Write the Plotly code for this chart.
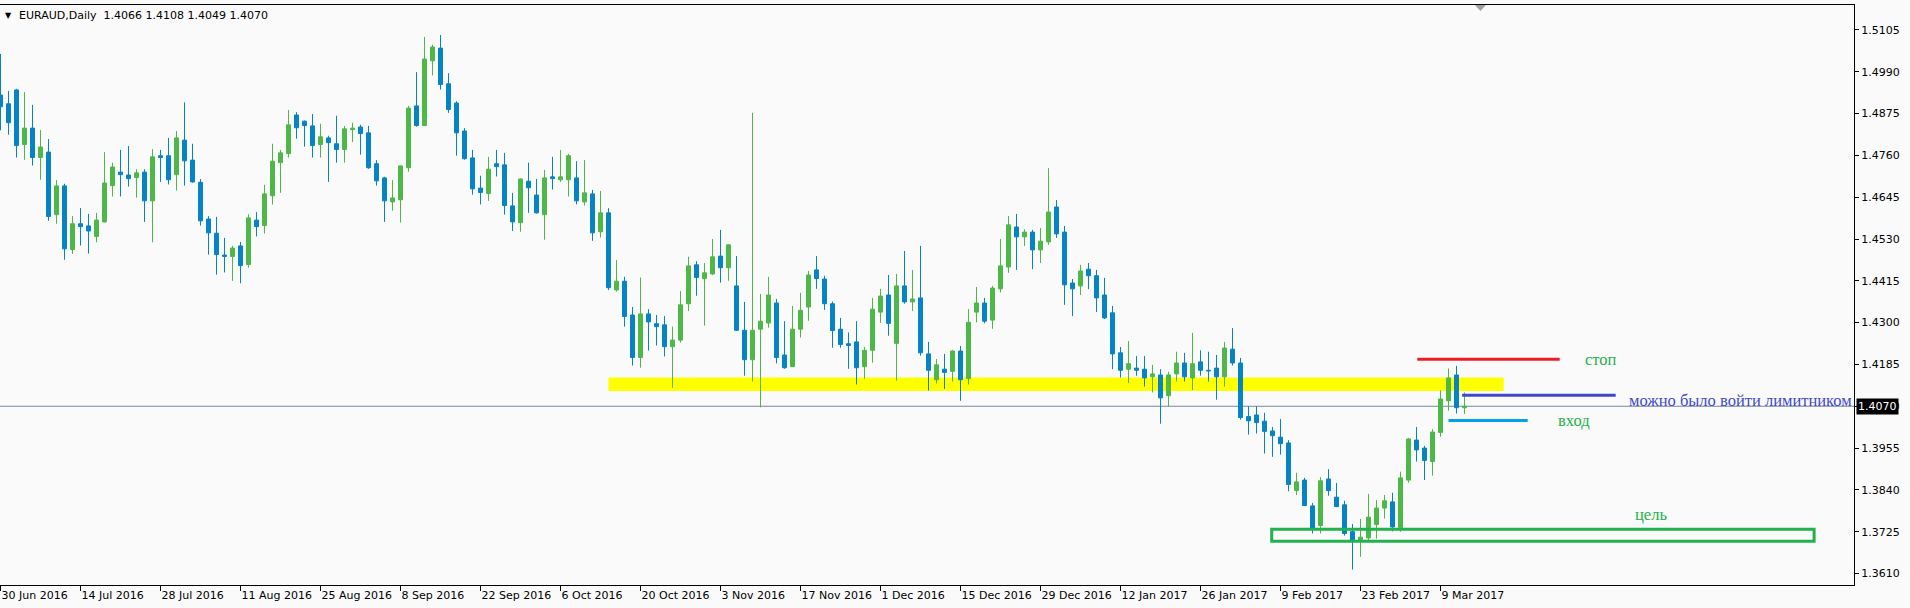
import plotly.graph_objects as go

# ---------------- data (EURAUD Daily) ----------------
opens = [1.4926, 1.4902, 1.4940, 1.4790, 1.4835, 1.4754, 1.4769, 1.4597, 1.4676, 1.4501,
         1.4572, 1.4566, 1.4537, 1.4577, 1.4677, 1.4714, 1.4706, 1.4699, 1.4714, 1.4635,
         1.4759, 1.4759, 1.4707, 1.4802, 1.4747, 1.4686, 1.4585, 1.4546, 1.4486, 1.4482,
         1.4511, 1.4460, 1.4582, 1.4567, 1.4649, 1.4740, 1.4765, 1.4871, 1.4854, 1.4841,
         1.4790, 1.4808, 1.4792, 1.4776, 1.4831, 1.4838, 1.4822, 1.4737, 1.4698, 1.4632,
         1.4638, 1.4726, 1.4896, 1.4842, 1.5020, 1.5055, 1.4957, 1.4904, 1.4827, 1.4753,
         1.4670, 1.4655, 1.4737, 1.4734, 1.4621, 1.4575, 1.4689, 1.4651, 1.4597, 1.4701,
         1.4693, 1.4693, 1.4698, 1.4632, 1.4654, 1.4550, 1.4602, 1.4390, 1.4414, 1.4321,
         1.4204, 1.4324, 1.4297, 1.4294, 1.4234, 1.4252, 1.4352, 1.4459, 1.4421, 1.4434,
         1.4483, 1.4451, 1.4401, 1.4279, 1.4198, 1.4282, 1.4299, 1.4354, 1.4211, 1.4179,
         1.4282, 1.4343, 1.4445, 1.4420, 1.4352, 1.4282, 1.4242, 1.4247, 1.4179, 1.4224,
         1.4329, 1.4376, 1.4243, 1.4401, 1.4357, 1.4368, 1.4214, 1.4143, 1.4172, 1.4166,
         1.4222, 1.4146, 1.4329, 1.4354, 1.4307, 1.4393, 1.4453, 1.4563, 1.4536, 1.4549,
         1.4500, 1.4522, 1.4618, 1.4549, 1.4409, 1.4401, 1.4447, 1.4429, 1.4376, 1.4327,
         1.4217, 1.4172, 1.4175, 1.4172, 1.4151, 1.4156, 1.4099, 1.4159, 1.4189, 1.4148,
         1.4192, 1.4169, 1.4175, 1.4151, 1.4227, 1.4189, 1.4042, 1.4046, 1.4029, 1.4002,
         1.3985, 1.3969, 1.3838, 1.3867, 1.3796, 1.3742, 1.3870, 1.3820, 1.3799, 1.3725,
         1.3699, 1.3708, 1.3745, 1.3790, 1.3807, 1.3736, 1.3867, 1.3977, 1.3955, 1.3918,
         1.3998, 1.4085, 1.4156, 1.4066]
highs = [1.5039, 1.4937, 1.4943, 1.4934, 1.4899, 1.4830, 1.4805, 1.4692, 1.4682, 1.4593,
         1.4615, 1.4599, 1.4602, 1.4769, 1.4740, 1.4775, 1.4786, 1.4722, 1.4722, 1.4777,
         1.4775, 1.4808, 1.4827, 1.4906, 1.4792, 1.4695, 1.4593, 1.4591, 1.4533, 1.4511,
         1.4522, 1.4598, 1.4604, 1.4679, 1.4792, 1.4775, 1.4885, 1.4879, 1.4856, 1.4874,
         1.4847, 1.4814, 1.4869, 1.4841, 1.4850, 1.4844, 1.4841, 1.4747, 1.4701, 1.4692,
         1.4732, 1.4896, 1.4989, 1.5086, 1.5064, 1.5091, 1.4986, 1.4909, 1.4835, 1.4775,
         1.4704, 1.4756, 1.4775, 1.4767, 1.4657, 1.4696, 1.4740, 1.4695, 1.4720, 1.4756,
         1.4775, 1.4764, 1.4744, 1.4747, 1.4665, 1.4662, 1.4615, 1.4472, 1.4426, 1.4343,
         1.4424, 1.4337, 1.4321, 1.4318, 1.4289, 1.4387, 1.4481, 1.4469, 1.4464, 1.4530,
         1.4555, 1.4515, 1.4483, 1.4357, 1.4877, 1.4379, 1.4426, 1.4365, 1.4304, 1.4346,
         1.4382, 1.4442, 1.4483, 1.4429, 1.4358, 1.4313, 1.4273, 1.4304, 1.4233, 1.4368,
         1.4393, 1.4431, 1.4434, 1.4497, 1.4445, 1.4511, 1.4247, 1.4200, 1.4214, 1.4224,
         1.4236, 1.4337, 1.4398, 1.4368, 1.4401, 1.4530, 1.4593, 1.4599, 1.4557, 1.4555,
         1.4560, 1.4725, 1.4637, 1.4566, 1.4420, 1.4459, 1.4464, 1.4445, 1.4423, 1.4346,
         1.4233, 1.4249, 1.4208, 1.4208, 1.4184, 1.4172, 1.4165, 1.4220, 1.4217, 1.4272,
         1.4224, 1.4220, 1.4211, 1.4247, 1.4285, 1.4203, 1.4070, 1.4070, 1.4052, 1.4013,
         1.4035, 1.3977, 1.3887, 1.3873, 1.3804, 1.3875, 1.3897, 1.3859, 1.3810, 1.3746,
         1.3760, 1.3829, 1.3812, 1.3826, 1.3832, 1.3890, 1.3983, 1.4013, 1.3961, 1.4007,
         1.4114, 1.4174, 1.4181, 1.4108]
lows = [1.4829, 1.4817, 1.4754, 1.4748, 1.4732, 1.4693, 1.4580, 1.4572, 1.4473, 1.4489,
        1.4512, 1.4490, 1.4521, 1.4576, 1.4647, 1.4647, 1.4674, 1.4644, 1.4577, 1.4521,
        1.4687, 1.4680, 1.4663, 1.4677, 1.4685, 1.4567, 1.4487, 1.4432, 1.4438, 1.4415,
        1.4408, 1.4451, 1.4537, 1.4545, 1.4625, 1.4657, 1.4754, 1.4806, 1.4784, 1.4754,
        1.4754, 1.4687, 1.4740, 1.4740, 1.4797, 1.4762, 1.4723, 1.4677, 1.4577, 1.4608,
        1.4575, 1.4715, 1.4839, 1.4841, 1.4980, 1.4941, 1.4877, 1.4759, 1.4748, 1.4652,
        1.4625, 1.4635, 1.4702, 1.4597, 1.4552, 1.4550, 1.4602, 1.4600, 1.4528, 1.4666,
        1.4687, 1.4647, 1.4625, 1.4622, 1.4525, 1.4534, 1.4390, 1.4385, 1.4289, 1.4182,
        1.4176, 1.4223, 1.4237, 1.4207, 1.4121, 1.4245, 1.4332, 1.4374, 1.4292, 1.4431,
        1.4410, 1.4415, 1.4277, 1.4154, 1.4138, 1.4067, 1.4286, 1.4188, 1.4173, 1.4178,
        1.4259, 1.4305, 1.4393, 1.4335, 1.4231, 1.4231, 1.4173, 1.4130, 1.4146, 1.4190,
        1.4299, 1.4264, 1.4140, 1.4352, 1.4332, 1.4209, 1.4113, 1.4133, 1.4118, 1.4138,
        1.4085, 1.4130, 1.4301, 1.4298, 1.4283, 1.4383, 1.4437, 1.4445, 1.4511, 1.4447,
        1.4464, 1.4514, 1.4533, 1.4349, 1.4318, 1.4376, 1.4392, 1.4329, 1.4310, 1.4172,
        1.4149, 1.4134, 1.4154, 1.4124, 1.4108, 1.4022, 1.4070, 1.4138, 1.4138, 1.4115,
        1.4154, 1.4138, 1.4088, 1.4124, 1.4182, 1.4033, 1.3992, 1.3995, 1.3940, 1.3931,
        1.3937, 1.3836, 1.3826, 1.3796, 1.3720, 1.3720, 1.3824, 1.3793, 1.3714, 1.3621,
        1.3656, 1.3700, 1.3706, 1.3761, 1.3726, 1.3725, 1.3860, 1.3918, 1.3867, 1.3879,
        1.3986, 1.4058, 1.4050, 1.4049]
closes = [1.4894, 1.4850, 1.4787, 1.4835, 1.4754, 1.4783, 1.4592, 1.4676, 1.4503, 1.4572,
          1.4564, 1.4552, 1.4582, 1.4684, 1.4728, 1.4707, 1.4696, 1.4712, 1.4635, 1.4756,
          1.4754, 1.4693, 1.4808, 1.4745, 1.4687, 1.4580, 1.4547, 1.4487, 1.4482, 1.4505,
          1.4457, 1.4588, 1.4564, 1.4654, 1.4744, 1.4767, 1.4844, 1.4836, 1.4842, 1.4787,
          1.4811, 1.4795, 1.4776, 1.4833, 1.4835, 1.4820, 1.4726, 1.4690, 1.4635, 1.4643,
          1.4731, 1.4890, 1.4842, 1.5025, 1.5058, 1.4955, 1.4886, 1.4822, 1.4751, 1.4668,
          1.4658, 1.4722, 1.4729, 1.4622, 1.4577, 1.4695, 1.4671, 1.4602, 1.4698, 1.4696,
          1.4701, 1.4759, 1.4635, 1.4657, 1.4547, 1.4602, 1.4396, 1.4414, 1.4317, 1.4204,
          1.4324, 1.4302, 1.4289, 1.4234, 1.4252, 1.4349, 1.4456, 1.4424, 1.4437, 1.4481,
          1.4451, 1.4514, 1.4279, 1.4198, 1.4279, 1.4304, 1.4376, 1.4204, 1.4176, 1.4282,
          1.4334, 1.4431, 1.4421, 1.4352, 1.4278, 1.4240, 1.4237, 1.4176, 1.4224, 1.4337,
          1.4373, 1.4298, 1.4401, 1.4357, 1.4365, 1.4217, 1.4169, 1.4184, 1.4163, 1.4222,
          1.4143, 1.4301, 1.4354, 1.4304, 1.4395, 1.4456, 1.4569, 1.4536, 1.4549, 1.4500,
          1.4524, 1.4604, 1.4544, 1.4404, 1.4393, 1.4442, 1.4429, 1.4368, 1.4313, 1.4214,
          1.4169, 1.4187, 1.4169, 1.4148, 1.4159, 1.4093, 1.4156, 1.4189, 1.4151, 1.4187,
          1.4169, 1.4167, 1.4151, 1.4230, 1.4189, 1.4039, 1.4030, 1.4025, 1.4001, 1.3989,
          1.3967, 1.3855, 1.3862, 1.3797, 1.3731, 1.3865, 1.3838, 1.3794, 1.3720, 1.3699,
          1.3710, 1.3765, 1.3790, 1.3810, 1.3738, 1.3873, 1.3980, 1.3950, 1.3921, 1.3999,
          1.4090, 1.4148, 1.4066, 1.4070]

date_tick_bars = [0, 10, 20, 30, 40, 50, 60, 70, 80, 90, 100, 110, 120, 130, 140, 150, 160, 170, 180]
date_tick_labels = ["30 Jun 2016", "14 Jul 2016", "28 Jul 2016", "11 Aug 2016", "25 Aug 2016",
                    "8 Sep 2016", "22 Sep 2016", "6 Oct 2016", "20 Oct 2016", "3 Nov 2016",
                    "17 Nov 2016", "1 Dec 2016", "15 Dec 2016", "29 Dec 2016", "12 Jan 2017",
                    "26 Jan 2017", "9 Feb 2017", "23 Feb 2017", "9 Mar 2017"]
price_ticks = [1.3610, 1.3725, 1.3840, 1.3955, 1.4070, 1.4185, 1.4300, 1.4415,
               1.4530, 1.4645, 1.4760, 1.4875, 1.4990, 1.5105]

title_text = "EURAUD,Daily\u00a0\u00a01.4066 1.4108 1.4049 1.4070"
bid_price = 1.4070

# hand-drawn annotations (bar index / price)
support_zone = {"x": [76.0, 187.9], "y": [1.4112, 1.4149]}
target_box = {"x": [158.9, 226.7], "y": [1.3699, 1.3732]}
stop_line = {"x": [177.1, 194.9], "y": 1.4199}
limit_line = {"x": [182.7, 201.9], "y": 1.4100}
entry_line = {"x": [181.0, 190.9], "y": 1.4031}
labels = [
    {"text": "стоп", "x": 197.8, "y": 1.4199, "color": "#22B14C"},
    {"text": "можно было войти лимитником", "x": 203.3, "y": 1.4085, "color": "#3F48CC"},
    {"text": "вход", "x": 194.4, "y": 1.4032, "color": "#22B14C"},
    {"text": "цель", "x": 204.0, "y": 1.3771, "color": "#22B14C"},
]

# ---------------- styles ----------------
BULL = "#4DB848"
BEAR = "#0584C5"
BG = "#FAFAFA"
AXFONT = dict(family="DejaVu Sans", size=11, color="#000000")

W, H = 1910, 608
ML, MR, MT, MB = 0, 56, 5, 23
plot_w = W - ML - MR
bar_px = 8.0
x_lo = -0.5 / bar_px
x_hi = (plot_w - 0.5) / bar_px
y_lo, y_hi = 1.35784, 1.51736

idx = list(range(len(opens)))
up = [i for i in idx if closes[i] >= opens[i]]
dn = [i for i in idx if closes[i] < opens[i]]

fig = go.Figure()


def wick_trace(ids, color):
    xs, ys = [], []
    for i in ids:
        xs += [i, i, None]
        ys += [lows[i], highs[i], None]
    return go.Scatter(x=xs, y=ys, mode="lines", line=dict(color=color, width=1),
                      hoverinfo="skip", showlegend=False)


fig.add_trace(wick_trace(up, BULL))
fig.add_trace(wick_trace(dn, BEAR))
fig.add_trace(go.Bar(x=up, base=[opens[i] for i in up], y=[closes[i] - opens[i] for i in up],
                     width=0.5, marker=dict(color=BULL, line=dict(color=BULL, width=1)),
                     showlegend=False, hoverinfo="skip"))
fig.add_trace(go.Bar(x=dn, base=[closes[i] for i in dn], y=[opens[i] - closes[i] for i in dn],
                     width=0.5, marker=dict(color=BEAR, line=dict(color=BEAR, width=1)),
                     showlegend=False, hoverinfo="skip"))

shapes = [
    dict(type="rect", xref="x", yref="y", x0=support_zone["x"][0], x1=support_zone["x"][1],
         y0=support_zone["y"][0], y1=support_zone["y"][1], fillcolor="#FFFF00",
         line=dict(width=0), layer="below"),
    dict(type="line", xref="paper", yref="y", x0=0, x1=1, y0=bid_price, y1=bid_price,
         line=dict(color="#778899", width=1), layer="below"),
    dict(type="rect", xref="x", yref="y", x0=target_box["x"][0], x1=target_box["x"][1],
         y0=target_box["y"][0], y1=target_box["y"][1], fillcolor="rgba(0,0,0,0)",
         line=dict(color="#22B14C", width=3), layer="above"),
    dict(type="line", xref="x", yref="y", x0=stop_line["x"][0], x1=stop_line["x"][1],
         y0=stop_line["y"], y1=stop_line["y"], line=dict(color="#ED1C24", width=3)),
    dict(type="line", xref="x", yref="y", x0=limit_line["x"][0], x1=limit_line["x"][1],
         y0=limit_line["y"], y1=limit_line["y"], line=dict(color="#3F48CC", width=3)),
    dict(type="line", xref="x", yref="y", x0=entry_line["x"][0], x1=entry_line["x"][1],
         y0=entry_line["y"], y1=entry_line["y"], line=dict(color="#00A2E8", width=3)),
    # chart-shift marker at the top border
    dict(type="path", xref="paper", yref="paper",
         path="M 0.7955,1.0 L 0.8015,1.0 L 0.7985,0.9897 Z",
         fillcolor="#A0A0A0", line=dict(width=0)),
]

annotations = [
    dict(text="▼", xref="paper", yref="paper", x=3 / plot_w, y=(H - MB - 15) / (H - MT - MB),
         xanchor="left", yanchor="middle", showarrow=False,
         font=dict(family="DejaVu Sans", size=8, color="#000000")),
    dict(text=title_text, xref="paper", yref="paper", x=17 / plot_w, y=(H - MB - 15) / (H - MT - MB),
         xanchor="left", yanchor="middle", showarrow=False, font=AXFONT),
    dict(text=f"{bid_price:.4f}", xref="paper", yref="y", x=1, y=bid_price, xanchor="left",
         yanchor="middle", xshift=2, showarrow=False, bgcolor="#000000", borderpad=1,
         font=dict(family="DejaVu Sans", size=11, color="#FFFFFF")),
]
for lb in labels:
    annotations.append(dict(text=lb["text"], xref="x", yref="y", x=lb["x"], y=lb["y"],
                            xanchor="left", yanchor="middle", showarrow=False,
                            font=dict(family="Liberation Serif", size=16.5, color=lb["color"])))

fig.update_layout(
    width=W, height=H, autosize=False,
    margin=dict(l=ML, r=MR, t=MT, b=MB, pad=0),
    paper_bgcolor=BG, plot_bgcolor=BG,
    barmode="overlay", bargap=0,
    showlegend=False,
    shapes=shapes, annotations=annotations,
    xaxis=dict(range=[x_lo, x_hi], showgrid=False, zeroline=False,
               showline=True, linecolor="#000000", linewidth=1, mirror=True,
               ticks="outside", ticklen=5, tickcolor="#000000", tickwidth=1,
               tickvals=date_tick_bars, ticktext=date_tick_labels,
               ticklabelposition="outside right", tickfont=AXFONT, fixedrange=True),
    yaxis=dict(range=[y_lo, y_hi], side="right", showgrid=False, zeroline=False,
               showline=True, linecolor="#000000", linewidth=1,
               ticks="outside", ticklen=4, tickcolor="#000000", tickwidth=1,
               tickvals=price_ticks, ticktext=[f"{p:.4f}" for p in price_ticks],
               tickfont=AXFONT, fixedrange=True),
)

fig.write_html("out.html", config={"displayModeBar": False, "staticPlot": True})
